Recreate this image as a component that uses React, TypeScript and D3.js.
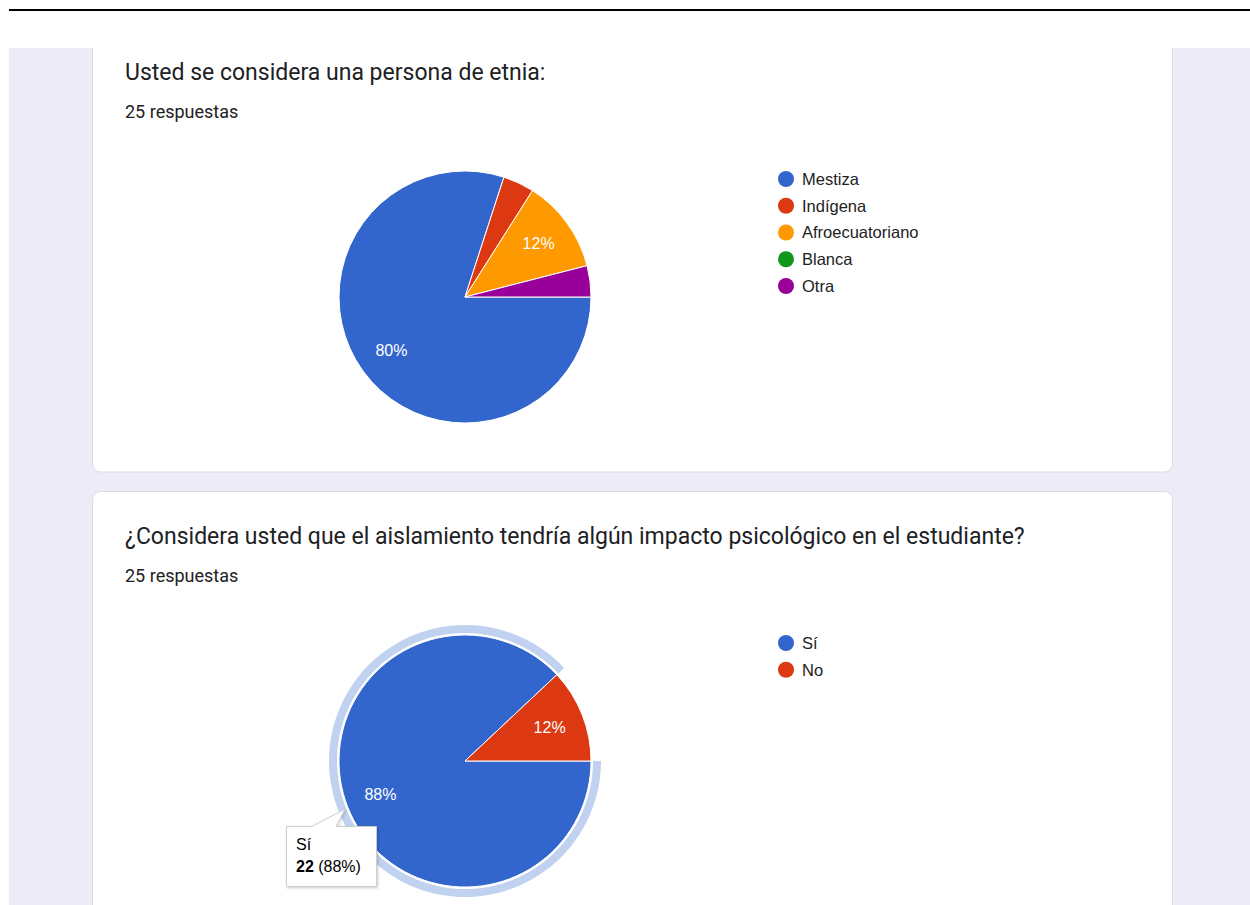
import React from 'react';
import * as d3 from 'd3';

// chart 1: etnia
const etniaLabels = ['Mestiza', 'Indígena', 'Afroecuatoriano', 'Blanca', 'Otra'];
const etniaValues = [20, 1, 3, 0, 1];
const etniaColors = ['#3366cc', '#dc3912', '#ff9900', '#109618', '#990099'];

// chart 2: impacto psicologico
const impactoLabels = ['Sí', 'No'];
const impactoValues = [22, 3];
const impactoColors = ['#3366cc', '#dc3912'];

const titles = [
  'Usted se considera una persona de etnia:',
  '¿Considera usted que el aislamiento tendría algún impacto psicológico en el estudiante?',
];
const respuestas = '25 respuestas';

const W = 1250;
const H = 905;
const R = 126;
const titleFont = 'Roboto, "Open Sans", sans-serif';
const chartFont = '"Liberation Sans", Arial, sans-serif';

type PieProps = {
  cx: number;
  cy: number;
  labels: string[];
  values: number[];
  colors: string[];
  highlight?: number;
};

function PieChart({ cx, cy, labels, values, colors, highlight }: PieProps) {
  const total = d3.sum(values);
  const pie = d3.pie<number>()
    .sort(null)
    .value(d => d)
    .startAngle(Math.PI / 2)
    .endAngle(Math.PI / 2 + 2 * Math.PI);
  const arcs = pie(values);
  const arc = d3.arc<d3.PieArcDatum<number>>().innerRadius(0).outerRadius(R);
  const ring = d3.arc<d3.PieArcDatum<number>>().innerRadius(R + 2).outerRadius(R + 10);
  const labelArc = d3.arc<d3.PieArcDatum<number>>().innerRadius(91).outerRadius(91);

  return (
    <g transform={`translate(${cx},${cy})`}>
      {highlight !== undefined && (
        <path d={ring(arcs[highlight]) || ''} fill={colors[highlight]} opacity={0.3} />
      )}
      {arcs.map((a, i) => a.value > 0 && (
        <path key={i} d={arc(a) || ''} fill={colors[i]} stroke="#ffffff" strokeWidth={1} />
      ))}
      {arcs.map((a, i) => {
        const pct = a.value / total;
        if (pct < 0.1) return null;
        const [lx, ly] = labelArc.centroid(a);
        return (
          <text key={'l' + i} x={lx} y={ly} dy="0.36em" textAnchor="middle"
            fill="#ffffff" fontSize={16} fontFamily={chartFont}>
            {Math.round(pct * 100)}%
          </text>
        );
      })}
      <g transform={`translate(${R + 195},${-R + 8})`}>
        {labels.map((l, i) => (
          <g key={l} transform={`translate(0,${i * 26.75})`}>
            <circle cx={0} cy={0} r={8} fill={colors[i]} />
            <text x={16} y={0} dy="0.36em" fontSize={16.5} fill="#222222" fontFamily={chartFont}>{l}</text>
          </g>
        ))}
      </g>
    </g>
  );
}

export default function App() {
  const bg = '#eeebf8';
  return (
    <svg width={W} height={H} style={{ position: 'absolute', left: 0, top: 0, background: '#ffffff' }}>
      <defs>
        <filter id="tipShadow" x="-20%" y="-20%" width="140%" height="150%">
          <feDropShadow dx={1} dy={1} stdDeviation={1.5} floodColor="#000" floodOpacity={0.2} />
        </filter>
      </defs>
      <rect x={9} y={48} width={W - 9} height={H - 48} fill={bg} />

      {/* card 1 */}
      <rect x={92.5} y={-20} width={1080} height={492} rx={8} fill="#ffffff" stroke="#dadce0" strokeWidth={1} />
      {/* card 2 */}
      <rect x={92.5} y={491.5} width={1080} height={460} rx={8} fill="#ffffff" stroke="#dadce0" strokeWidth={1} />
      <rect x={0} y={0} width={W} height={48} fill="#ffffff" />
      <line x1={9} x2={W} y1={10} y2={10} stroke="#000000" strokeWidth={2} />

      <text x={125} y={80} fontSize={23} fill="#202124" fontFamily={titleFont}>{titles[0]}</text>
      <text x={125} y={117.5} fontSize={18} fill="#202124" fontFamily={titleFont}>{respuestas}</text>
      <PieChart cx={465} cy={297} labels={etniaLabels} values={etniaValues} colors={etniaColors} />

      <text x={125} y={544} fontSize={23} fill="#202124" fontFamily={titleFont}>{titles[1]}</text>
      <text x={125} y={582} fontSize={18} fill="#202124" fontFamily={titleFont}>{respuestas}</text>
      <PieChart cx={465} cy={761} labels={impactoLabels} values={impactoValues} colors={impactoColors} highlight={0} />

      {/* tooltip */}
      <g fontFamily={chartFont} filter="url(#tipShadow)">
        <path d="M286.5,826.5 L312,826.5 L345,809 L336,826.5 L376.5,826.5 L376.5,886.5 L286.5,886.5 Z"
          fill="#ffffff" stroke="#cccccc" strokeWidth={1} />
      </g>
      <text x={296} y={850} fontSize={16} fill="#000000" fontFamily={chartFont}>{impactoLabels[0]}</text>
      <text x={296} y={872} fontSize={16} fill="#000000" fontFamily={chartFont}>
        <tspan fontWeight="bold">{impactoValues[0]}</tspan>
        {` (${Math.round(impactoValues[0] / d3.sum(impactoValues) * 100)}%)`}
      </text>
    </svg>
  );
}
